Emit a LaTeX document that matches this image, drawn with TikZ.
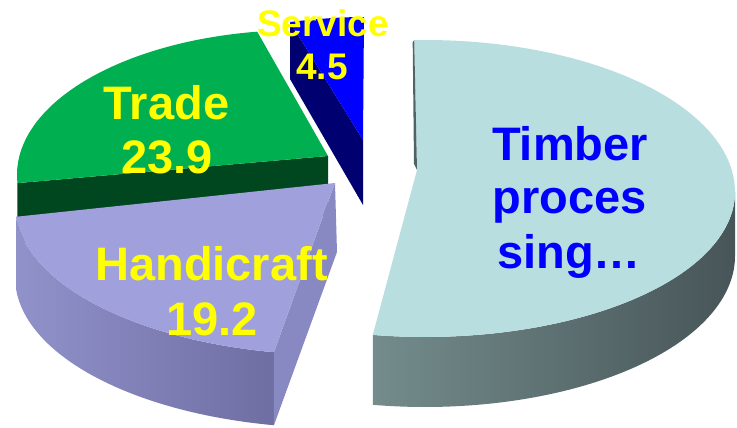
\documentclass[tikz,border=0pt]{standalone}
\usepackage{fontspec}
\setmainfont{Liberation Sans}
\usetikzlibrary{calc}

\definecolor{servtop}{RGB}{0,0,255}
\definecolor{servside}{RGB}{0,0,112}
\definecolor{timtop}{RGB}{184,222,224}
\definecolor{timsideL}{RGB}{116,140,140}
\definecolor{timsideR}{RGB}{71,85,88}
\definecolor{timedge}{RGB}{80,100,102}
\definecolor{tradetop}{RGB}{0,176,80}
\definecolor{tradeside}{RGB}{0,71,31}
\definecolor{lavtop}{RGB}{160,160,220}
\definecolor{lavsideL}{RGB}{146,146,203}
\definecolor{lavsideR}{RGB}{110,110,163}
\definecolor{lavrad}{RGB}{136,136,194}
\definecolor{lblyellow}{RGB}{255,255,0}
\definecolor{lblblue}{RGB}{0,0,255}

\begin{document}
\begin{tikzpicture}[x=1pt,y=-1pt,
  big/.style={font=\fontsize{47}{54}\selectfont\bfseries, inner sep=0pt, anchor=base},
  small/.style={font=\fontsize{37}{43}\selectfont\bfseries, inner sep=0pt, anchor=base},
  yel/.style={text=lblyellow},
  blu/.style={text=lblblue}]
\useasboundingbox (0,0) rectangle (737,428);

% ---------- Service slice (back, exploded upward) ----------
\coordinate (S1) at (290,22);
\coordinate (S2) at (364,17);
\coordinate (SA) at (363,140);
\coordinate (SAb) at (363,205);
\coordinate (S1b) at (290,79);
\fill[servside] (S1) -- (SA) -- (SAb) -- (S1b) -- cycle;
\fill[servtop] (S1) .. controls (315,19) and (340,17) .. (S2) -- (SA) -- cycle;

% ---------- Timber processing slice ----------
\coordinate (TC) at (425,192);
\coordinate (TB) at (425,256);
\coordinate (TA) at (417,170);
\path (TC) ++(-92:310 and 152) coordinate (T1);
\path (TC) ++(0:310 and 145) coordinate (TR);
\path (TC) ++(99.7:310 and 145) coordinate (T2);
\path (TB) ++(99.7:310 and 151) coordinate (T2b);
\shade[left color=timsideL, right color=timsideR]
  (TR) arc[start angle=0, end angle=99.7, x radius=310, y radius=145]
  -- (T2b) arc[start angle=99.7, end angle=0, x radius=310, y radius=151] -- cycle;
\fill[timtop] (TA) -- (T1)
  arc[start angle=-92, end angle=0, x radius=310, y radius=152]
  arc[start angle=0, end angle=99.7, x radius=310, y radius=145] -- cycle;
\fill[timedge] ($(T1)+(-1.5,2)$) -- (T1) -- (TA) -- ($(TA)+(-3,-6)$) -- cycle;

% ---------- Trade slice ----------
\coordinate (GC) at (300,175);
\coordinate (GA) at (328,156);
\path (GC) ++(176.8:283 and 145) coordinate (G1);
\path (GC) ++(261.3:283 and 145) coordinate (G2);
\fill[tradeside] (G1) -- (GA) -- ($(GA)+(0,60)$) -- ($(G1)+(0,60)$) -- cycle;
\fill[tradetop] (GA) -- (G1)
  arc[start angle=176.8, end angle=261.3, x radius=283, y radius=145] -- cycle;

% ---------- Handicraft slice ----------
\coordinate (HC) at (335,205);
\coordinate (HCb) at (335,277);
\coordinate (HA) at (335,183);
\coordinate (HAb) at (337,252);
\path (HC) ++(175.5:320 and 150) coordinate (H1);
\path (HC) ++(101:320 and 150) coordinate (H2);
\path (HCb) ++(175.5:320 and 151) coordinate (H1b);
\path (HCb) ++(101:320 and 151) coordinate (H2b);
\shade[left color=lavsideL, right color=lavsideR]
  (H2) arc[start angle=101, end angle=175.5, x radius=320, y radius=150]
  -- (H1b) arc[start angle=175.5, end angle=101, x radius=320, y radius=151] -- cycle;
\fill[lavrad] (HA) -- (HAb) -- (H2b) -- (H2) -- cycle;
\fill[lavtop] (HA) -- (H1)
  arc[start angle=175.5, end angle=101, x radius=320, y radius=150] -- cycle;

% ---------- Labels ----------
\node[small, yel] (svc) at (323,37) {Service};
\node[small, yel] (svcv) at (322,80) {4.5};
\node[big, yel] (trd) at (166.5,120) {Trade};
\node[big, yel] (trdv) at (167,173) {23.9};
\node[big, yel] (hnd) at (211.5,280) {Handicraft};
\node[big, yel] (hndv) at (212,335) {19.2};
\node[big, blu] (tim) at (570,160) {Timber};
\node[big, blu] (tim2) at (570,213) {proces};
\node[big, blu] (tim3) at (569,268) {sing…};
\end{tikzpicture}
\end{document}
